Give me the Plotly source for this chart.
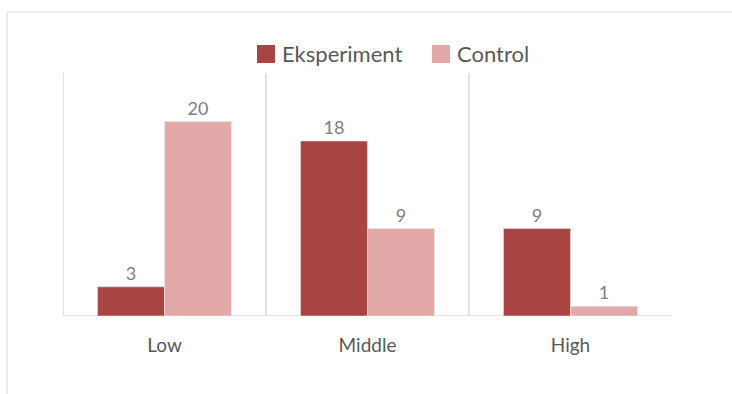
import plotly.graph_objects as go

categories = ["Low", "Middle", "High"]
eksperiment = [3, 18, 9]
control = [20, 9, 1]
series_names = ["Eksperiment", "Control"]

C_EKS = "#A84543"
C_CON = "#E2A9A8"
GRID = "#D9D9D9"
TXT = "#7F7F7F"
FONT = "Lato, 'Open Sans', sans-serif"

fig = go.Figure()
for name, vals, col in [(series_names[0], eksperiment, C_EKS), (series_names[1], control, C_CON)]:
    fig.add_trace(go.Bar(name=name, x=categories, y=vals, marker_color=col,
                         text=vals, textposition="outside", cliponaxis=False, showlegend=False,
                         textfont=dict(size=18, color=TXT, family=FONT)))

# category separators
for i in range(len(categories)):
    fig.add_shape(type="line", xref="x", yref="paper", x0=i - 0.5, x1=i - 0.5, y0=0, y1=1,
                  line=dict(color=GRID, width=1.5), layer="below")
# baseline
fig.add_shape(type="line", xref="x", yref="y", x0=-0.5, x1=len(categories) - 0.5, y0=0, y1=0,
              line=dict(color=GRID, width=1.5), layer="below")
# chart frame
fig.add_shape(type="rect", xref="paper", yref="paper", x0=-0.092, x1=1.2, y0=-0.5, y1=1.251,
              line=dict(color=GRID, width=1), layer="below")

# custom legend (large square swatches)
legend_items = [(series_names[0], C_EKS, 0.3186), (series_names[1], C_CON, 0.6059)]
sw = 18 / 609
for name, col, x0 in legend_items:
    fig.add_shape(type="rect", xref="paper", yref="paper", x0=x0, x1=x0 + sw,
                  y0=1.0412, y1=1.1152, fillcolor=col, line=dict(width=0))
    fig.add_annotation(xref="paper", yref="paper", x=x0 + sw + 5 / 609, y=1.0782,
                       xanchor="left", yanchor="middle", text=name, showarrow=False,
                       font=dict(size=22, color="#595959", family=FONT))

fig.update_layout(
    width=732, height=394,
    margin=dict(l=63, r=60, t=73, b=78),
    paper_bgcolor="white", plot_bgcolor="white",
    barmode="group", bargap=0.34, bargroupgap=0,
    font=dict(family=FONT, color="#595959"),
    showlegend=False,
    xaxis=dict(showgrid=False, showline=False, zeroline=False, ticks="",
               tickfont=dict(size=19, color="#595959", family=FONT), ticklabelstandoff=16,
               range=[-0.5, 2.5]),
    yaxis=dict(range=[0, 25], showgrid=False, showline=False, zeroline=False,
               showticklabels=False, ticks=""),
)

fig.write_html("out.html")
